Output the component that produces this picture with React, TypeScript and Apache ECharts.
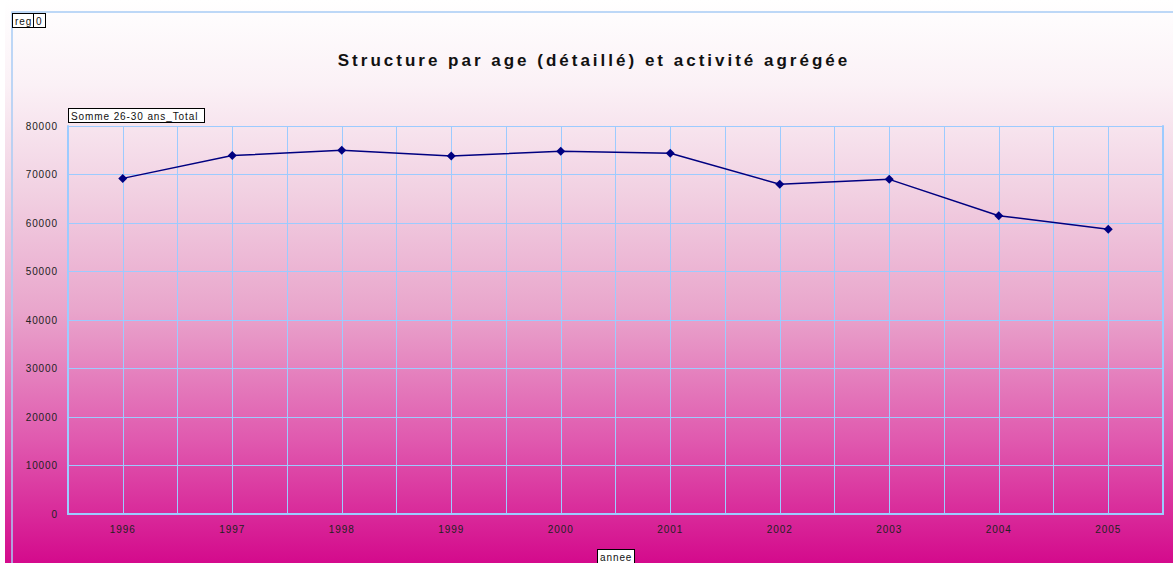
import React, { useEffect, useRef } from "react";
import * as echarts from "echarts";

const years = ["1996", "1997", "1998", "1999", "2000", "2001", "2002", "2003", "2004", "2005"];
const totals = [69200, 73900, 75000, 73800, 74800, 74400, 68000, 69000, 61500, 58700];
const yTicks = { min: 0, max: 80000, interval: 10000 };
const titleText = "Structure par age (détaillé) et activité agrégée";
const seriesName = "Somme 26-30 ans_Total";
const filterLabels = ["reg", "0"];
const xName = "annee";

const GRID = "#9CCBFF";

export default function App() {
  const ref = useRef<HTMLDivElement>(null);
  useEffect(() => {
    if (!ref.current) return;
    const chart = echarts.init(ref.current, undefined, { renderer: "svg" });
    const boxStyle = {
      fontFamily: "Liberation Sans",
      fontSize: 10,
      fill: "#111",
      backgroundColor: "#fff",
      borderColor: "#000",
      borderWidth: 1,
      padding: [2, 2, 1, 2],
    };
    chart.setOption({
      animation: false,
      title: {
        text: titleText,
        left: 589,
        top: 47,
        textAlign: "center",
        textStyle: { fontFamily: "Liberation Sans", fontSize: 17, fontWeight: "bold", color: "#111" },
      },
      graphic: [
        {
          type: "rect",
          z: -10,
          silent: true,
          shape: { x: 5, y: 0, width: 1168, height: 563 },
          style: {
            fill: new echarts.graphic.LinearGradient(0, 0, 0, 1, [
              { offset: 0, color: "#ffffff" },
              { offset: 0.15, color: "#fbf1f6" },
              { offset: 0.35, color: "#f1cfe1" },
              { offset: 0.55, color: "#e9a6cc" },
              { offset: 0.78, color: "#e05aaf" },
              { offset: 1, color: "#d40a8c" },
            ]),
          },
        },
        {
          type: "polyline",
          z: -5,
          silent: true,
          shape: { points: [[12, 563], [12, 12], [1173, 12]] },
          style: { stroke: "#a8ccf5", lineWidth: 1.5, fill: null },
        },
        { type: "text", left: 12, top: 13, style: { text: filterLabels[0], width: 17, ...boxStyle } },
        { type: "text", left: 33, top: 13, style: { text: filterLabels[1], width: 7, ...boxStyle } },
        { type: "text", left: 68, top: 108, style: { text: seriesName, width: 131, ...boxStyle } },
        { type: "text", left: 597, top: 549, style: { text: xName, width: 32, ...boxStyle } },
      ],
      grid: { left: 68, right: 10, top: 126, bottom: 49, show: false },
      xAxis: [
        {
          type: "category",
          data: years,
          boundaryGap: true,
          axisLine: { show: true, lineStyle: { color: GRID, width: 2 } },
          axisTick: { show: false },
          splitLine: { show: false },
          axisLabel: { margin: 10, fontFamily: "Liberation Sans", fontSize: 10, color: "#222" },
        },
        {
          type: "value",
          min: 0,
          max: 20,
          interval: 1,
          position: "top",
          axisLine: { show: true, lineStyle: { color: GRID, width: 2 } },
          axisTick: { show: false },
          axisLabel: { show: false },
          splitLine: { show: true, lineStyle: { color: GRID, width: 1 } },
        },
      ],
      yAxis: [
        {
          type: "value",
          min: yTicks.min,
          max: yTicks.max,
          interval: yTicks.interval,
          axisLine: { show: true, lineStyle: { color: GRID, width: 2 } },
          axisTick: { show: false },
          axisLabel: {
            margin: 10,
            fontFamily: "Liberation Sans",
            fontSize: 10,
            color: "#222",
            formatter: (v: number) => String(v),
          },
          splitLine: { show: true, lineStyle: { color: GRID, width: 1 } },
        },
        {
          type: "value",
          min: 0,
          max: 1,
          position: "right",
          axisLine: { show: true, lineStyle: { color: GRID, width: 2 } },
          axisTick: { show: false },
          axisLabel: { show: false },
          splitLine: { show: false },
        },
      ],
      series: [
        {
          name: seriesName,
          type: "line",
          data: totals,
          xAxisIndex: 0,
          yAxisIndex: 0,
          symbol: "diamond",
          symbolSize: 9,
          lineStyle: { color: "#000080", width: 1.5 },
          itemStyle: { color: "#000080" },
        },
      ],
    });
    const svg = ref.current.querySelector("svg");
    if (svg) {
      svg.querySelectorAll("text").forEach((t) => {
        const s = t.textContent || "";
        if (s === titleText) t.style.letterSpacing = "3px";
        else t.style.letterSpacing = "0.9px";
      });
    }
    return () => chart.dispose();
  }, []);
  return (
    <div style={{ position: "absolute", left: 0, top: 0, width: 1173, height: 563 }}>
      <div ref={ref} style={{ width: 1173, height: 563 }} />
    </div>
  );
}
